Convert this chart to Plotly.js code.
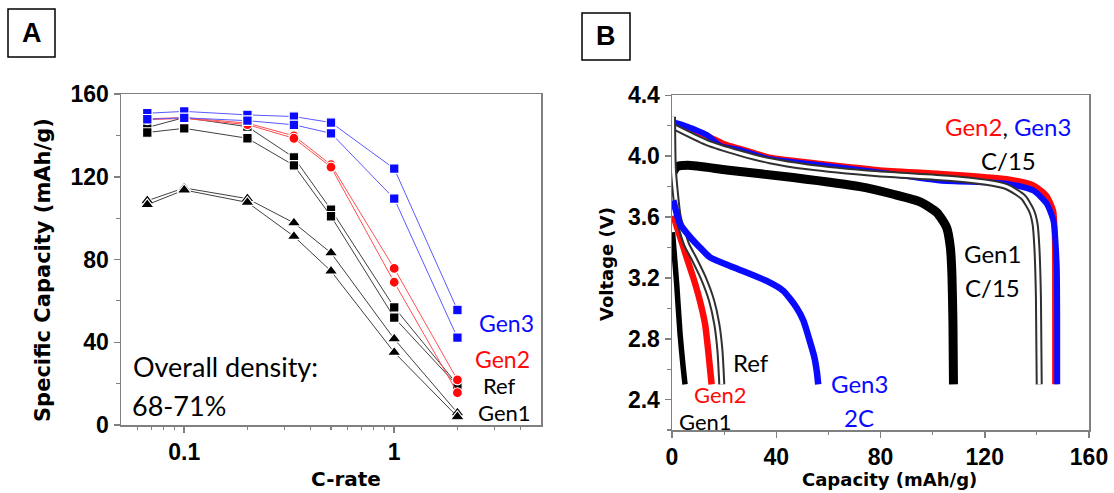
<!DOCTYPE html>
<html><head><meta charset="utf-8">
<script src="https://cdn.plot.ly/plotly-3.0.1.min.js"></script>
<style>body{margin:0;padding:0;background:#fff}#c{width:1114px;height:493px}</style>
</head><body><div id="c"></div>
<script>
// ---------- Panel A data (C-rate vs specific capacity) ----------
const rate = [0.0667, 0.1, 0.2, 0.333, 0.5, 1, 2];
const gen3a = [150.7, 151.6, 149.9, 149.1, 146.2, 123.9, 55.6];
const gen3b = [147.8, 148.5, 147.1, 145.1, 141.0, 109.4, 42.2];
const gen2a = [148.0, 148.6, 145.9, 139.8, 125.8, 75.7, 21.8];
const gen2b = [147.6, 148.2, 145.2, 138.6, 124.7, 69.0, 15.6];
const refa  = [143.8, 148.6, 144.2, 129.3, 104.1, 56.9, 19.5];
const refb  = [141.4, 143.4, 138.6, 125.5, 100.9, 51.9, 19.0];
const gen1a = [108.4, 114.6, 109.4, 97.7, 83.2, 41.6, 5.9];
const gen1b = [106.5, 113.6, 107.6, 91.2, 74.4, 35.1, 4.0];

// ---------- Panel B data (discharge curves) ----------
const g2c15Cap = [0, 0.5, 5, 14, 20, 27, 38, 52, 79, 103, 128.4, 138.6, 143.7, 146.3, 146.9, 147, 147];
const g2c15V   = [4.03, 4.21, 4.19, 4.13, 4.08, 4.045, 3.99, 3.96, 3.91, 3.885, 3.85, 3.81, 3.74, 3.64, 3.45, 3.0, 2.5];
const g3c15Cap = [0, 0.5, 5, 13.3, 18.4, 26.1, 37.6, 52, 79, 102.8, 128.4, 138.6, 143.7, 146.3, 147.6, 147.8, 147.8];
const g3c15V   = [4.03, 4.22, 4.20, 4.14, 4.07, 4.04, 3.98, 3.95, 3.895, 3.84, 3.82, 3.775, 3.69, 3.58, 3.29, 2.9, 2.5];
const refc15Cap = [0, 13.3, 26.1, 37.6, 52, 79, 106, 120, 128.4, 134.8, 138, 139.3, 140, 140.6, 140.9];
const refc15V   = [4.20, 4.09, 4.02, 3.97, 3.93, 3.885, 3.856, 3.83, 3.80, 3.73, 3.64, 3.555, 3.40, 3.07, 2.50];
const g1c15Cap = [0, 1.8, 6, 21, 46.5, 72.1, 84.9, 95.2, 101.6, 105.4, 106.8, 107.4, 107.8, 108];
const g1c15V   = [3.88, 3.93, 3.94, 3.91, 3.86, 3.80, 3.75, 3.70, 3.63, 3.53, 3.40, 3.225, 2.9, 2.5];
const g1c2Cap = [0.2, 1.0, 1.8, 3.1, 4.3, 5.0];
const g1c2V   = [3.50, 3.33, 3.16, 2.83, 2.61, 2.50];
const g2c2Cap = [0.5, 3.1, 5.6, 8.2, 10.7, 12.7, 13.9, 15.2];
const g2c2V   = [3.61, 3.47, 3.335, 3.20, 3.05, 2.895, 2.72, 2.50];
const refc2Cap = [0.2, 0.3, 0.5, 1.2, 2.4, 5.6, 8.2, 12, 15.2, 17.2, 18.4, 19.1];
const refc2V   = [4.26, 4.09, 3.92, 3.775, 3.60, 3.42, 3.335, 3.20, 3.05, 2.895, 2.72, 2.50];
const g3c2Cap = [0.5, 3.1, 6.9, 10.7, 14.6, 23.5, 36.3, 42.7, 47.8, 50.4, 52.6, 54.6, 55.6, 56.1];
const g3c2V   = [3.71, 3.555, 3.47, 3.40, 3.335, 3.27, 3.18, 3.115, 3.004, 2.92, 2.80, 2.68, 2.58, 2.50];

const W = 1114, H = 493;
const px = x => x / W, py = y => 1 - y / H;

const BLUE = '#0a0aff', RED = '#ff0a0a', BLK = '#000000';
function rateTrace(y, color, lineColor, symbol, size) {
  return {x: rate, y: y, xaxis: 'x', yaxis: 'y', type: 'scatter', mode: 'lines+markers',
    line: {color: lineColor, width: 1},
    marker: {symbol: symbol, size: size, color: color, line: {color: '#ffffff', width: 1.2}},
    showlegend: false, hoverinfo: 'skip'};
}
function band(x, y, color, width) {
  return {x: x, y: y, xaxis: 'x2', yaxis: 'y2', type: 'scatter', mode: 'lines',
    line: {color: color, width: width, shape: 'spline', smoothing: 0.6},
    showlegend: false, hoverinfo: 'skip'};
}

const traces = [
  rateTrace(gen1a, BLK, '#404040', 'triangle-up', 12),
  rateTrace(gen1b, BLK, '#404040', 'triangle-up', 12),
  rateTrace(refa, BLK, '#404040', 'square', 9.5),
  rateTrace(refb, BLK, '#404040', 'square', 9.5),
  rateTrace(gen2a, RED, '#ff5050', 'circle', 10),
  rateTrace(gen2b, RED, '#ff5050', 'circle', 10),
  rateTrace(gen3a, BLUE, '#5a5aff', 'square', 9.5),
  rateTrace(gen3b, BLUE, '#5a5aff', 'square', 9.5),

  band(g1c15Cap, g1c15V, BLK, 9),
  band(g2c15Cap, g2c15V, RED, 6),
  band(g3c15Cap, g3c15V, BLUE, 6),
  band(refc15Cap, refc15V, '#303030', 7),
  band(refc15Cap, refc15V, '#ffffff', 3),
  band(g1c2Cap, g1c2V, BLK, 5.5),
  band(g2c2Cap, g2c2V, RED, 6.5),
  band(refc2Cap, refc2V, '#303030', 7),
  band(refc2Cap, refc2V, '#ffffff', 3),
  band(g3c2Cap, g3c2V, BLUE, 6.5)
];

const AX = '#808080';
const tickFont = {family: 'Liberation Sans, Arial, sans-serif', size: 23, color: '#000', weight: 'bold'};
const common = {showgrid: false, zeroline: false, linecolor: AX, linewidth: 1.5, mirror: true,
  ticks: 'outside', ticklen: 6, tickwidth: 1.5, tickcolor: AX, tickfont: tickFont, fixedrange: true};

const layout = {
  width: W, height: H, margin: {l: 0, r: 0, t: 0, b: 0},
  paper_bgcolor: '#fff', plot_bgcolor: '#fff', showlegend: false,
  xaxis: Object.assign({}, common, {
    type: 'log', domain: [px(121), px(541)], anchor: 'y',
    range: [Math.log10(0.05), Math.log10(5)],
    tickmode: 'array', tickvals: [0.1, 1], ticktext: ['0.1', '1'],
    minor: {ticks: 'outside', ticklen: 3.5, tickwidth: 1.2, tickcolor: AX, showgrid: false,
      tickmode: 'array', tickvals: [0.06, 0.07, 0.08, 0.09, 0.2, 0.3, 0.4, 0.5, 0.6, 0.7, 0.8, 0.9, 2, 3, 4]}
  }),
  yaxis: Object.assign({}, common, {
    domain: [py(425), py(94)], anchor: 'x', range: [0, 160], dtick: 40, tick0: 0,
    minor: {ticks: 'outside', ticklen: 3.5, tickwidth: 1.2, tickcolor: AX, dtick: 20, showgrid: false}
  }),
  xaxis2: Object.assign({}, common, {
    domain: [px(672), px(1089)], anchor: 'y2', range: [0, 160], dtick: 40, tick0: 0,
    minor: {ticks: 'outside', ticklen: 3.5, tickwidth: 1.2, tickcolor: AX, dtick: 20, showgrid: false}
  }),
  yaxis2: Object.assign({}, common, {
    domain: [py(430), py(95.4)], anchor: 'x2', range: [2.2, 4.4], dtick: 0.4, tick0: 2.4,
    tickformat: '.1f',
    minor: {ticks: 'outside', ticklen: 3.5, tickwidth: 1.2, tickcolor: AX, dtick: 0.2, showgrid: false}
  }),
  shapes: [
    {type: 'rect', xref: 'paper', yref: 'paper', x0: px(8), x1: px(55), y0: py(57), y1: py(9),
      line: {color: '#000', width: 1.5}},
    {type: 'rect', xref: 'paper', yref: 'paper', x0: px(582), x1: px(630), y0: py(60), y1: py(13),
      line: {color: '#000', width: 1.5}}
  ],
  annotations: []
};

function ann(text, x, y, opts) {
  layout.annotations.push(Object.assign({text: text, xref: 'paper', yref: 'paper',
    x: px(x), y: py(y), xanchor: 'center', yanchor: 'middle', showarrow: false, borderpad: 0,
    font: {family: 'Lato, Open Sans, sans-serif', size: 24, color: '#000'}}, opts || {}));
}
const boldF = (s) => ({family: 'DejaVu Sans, sans-serif', size: s, color: '#000', weight: 'bold'});
const lab = (s, c) => ({family: 'Lato, Open Sans, sans-serif', size: s, color: c});

ann('<b>A</b>', 31.5, 33, {font: {family: 'Liberation Sans, Arial', size: 27, color: '#000'}});
ann('<b>B</b>', 606, 36.5, {font: {family: 'Liberation Sans, Arial', size: 27, color: '#000'}});

ann('Specific Capacity (mAh/g)', 43, 270, {textangle: -90, font: boldF(21)});
ann('C-rate', 346, 479, {font: boldF(20)});
ann('Voltage (V)', 606, 264, {textangle: -90, font: boldF(18)});
ann('Capacity (mAh/g)', 889, 479, {font: boldF(18)});

ann('Overall density:', 132, 366, {xanchor: 'left', font: lab(27, '#000')});
ann('68-71%', 131, 405, {xanchor: 'left', font: lab(27, '#000')});
ann('Gen3', 506, 323, {font: lab(23, BLUE)});
ann('Gen2', 502, 359, {font: lab(23, RED)});
ann('Ref', 499, 385, {font: lab(22, '#000')});
ann('Gen1', 504, 412, {font: lab(22, '#000')});

ann('<span style="color:' + RED + '">Gen2</span>, <span style="color:' + BLUE + '">Gen3</span>', 1008, 127, {font: lab(24, '#000')});
ann('C/15', 1008, 160, {font: lab(24, '#000')});
ann('Gen1', 992, 253, {font: lab(24, '#000')});
ann('C/15', 992, 287, {font: lab(24, '#000')});
ann('Ref', 751, 362, {font: lab(24, '#000')});
ann('Gen2', 720, 394, {font: lab(22, RED)});
ann('Gen1', 705, 421, {font: lab(22, '#000')});
ann('Gen3', 859, 383, {font: lab(24, BLUE)});
ann('2C', 859, 417, {font: lab(24, BLUE)});

Plotly.newPlot('c', traces, layout, {displayModeBar: false, staticPlot: true});
</script></body></html>
